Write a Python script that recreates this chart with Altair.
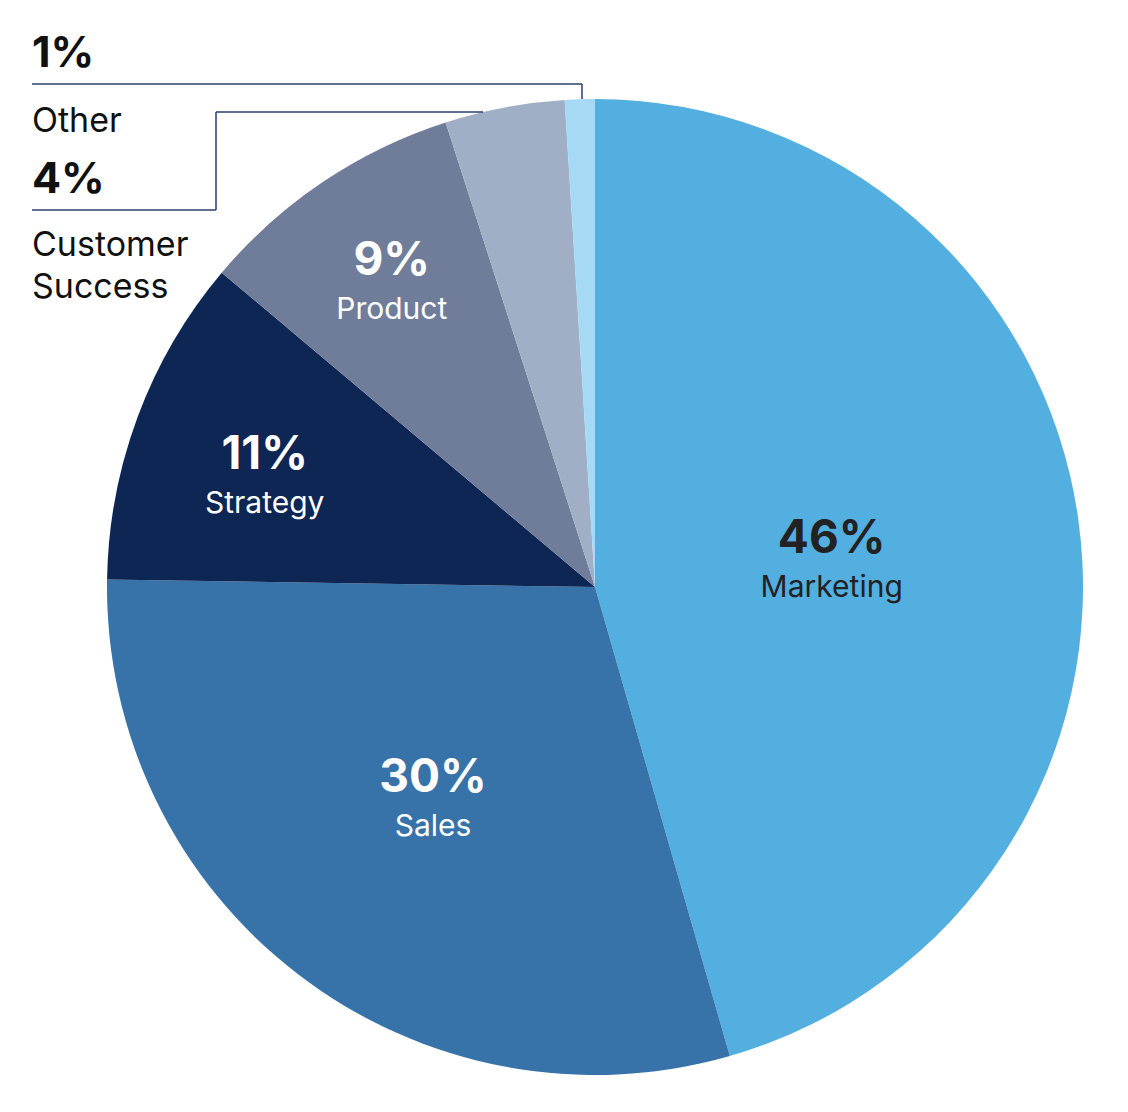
import altair as alt
import pandas as pd

categories = ["Marketing", "Sales", "Strategy", "Product", "Customer Success", "Other"]
values = [46, 30, 11, 9, 4, 1]
colors = ["#52AFE0", "#3773A9", "#0E2654", "#707D9A", "#A0AEC6", "#A5D9F4"]

total = sum(values)
starts, ends = [], []
acc = 0
for v in values:
    starts.append(acc)
    acc += v
    ends.append(acc)

df = pd.DataFrame({
    "category": categories,
    "value": values,
    "pct": [f"{v}%" for v in values],
    "start": starts,
    "end": ends,
    "mid": [(s + e) / 2 for s, e in zip(starts, ends)],
    "order": list(range(len(categories))),
})

# layout (plot coordinates; page has 8px margin)
CX, CY, R = 587, 579, 488
FONT = "Inter"
LINE = "#2A3F6C"

theta_scale = alt.Scale(domain=[0, total])

base = alt.Chart(df)

arcs = base.mark_arc(outerRadius=R).encode(
    theta=alt.Theta("start:Q", scale=theta_scale),
    theta2="end:Q",
    color=alt.Color("category:N", scale=alt.Scale(domain=categories, range=colors), legend=None),
    x=alt.value(CX),
    y=alt.value(CY),
)

# inner labels: radius and nudge per label (style)
inner = {
    "Marketing": (236, 3, 21, "#222222"),
    "Sales": (278, 7, 6, "#FFFFFF"),
    "Strategy": (343, -9, 24, "#FFFFFF"),
    "Product": (354, -6, 4, "#FFFFFF"),
}

layers = [arcs]
for cat, (rad, ndx, ndy, col) in inner.items():
    sub = base.transform_filter(alt.datum.category == cat)
    layers.append(
        sub.mark_text(radius=rad, dx=ndx, dy=ndy - 22, font=FONT, fontSize=46,
                      fontWeight="bold", color=col, align="center", baseline="alphabetic").encode(
            theta=alt.Theta("mid:Q", scale=theta_scale), text="pct:N",
            x=alt.value(CX), y=alt.value(CY))
    )
    layers.append(
        sub.mark_text(radius=rad, dx=ndx, dy=ndy + 22, font=FONT, fontSize=30,
                      fontWeight="normal", color=col, align="center", baseline="alphabetic").encode(
            theta=alt.Theta("mid:Q", scale=theta_scale), text="category:N",
            x=alt.value(CX), y=alt.value(CY))
    )

# outside labels
LX = 24
outer_pct = {"Other": 59, "Customer Success": 185}
outer_name = {"Other": 124, "Customer Success": 248}
for cat in ["Other", "Customer Success"]:
    sub = base.transform_filter(alt.datum.category == cat)
    layers.append(
        sub.mark_text(font=FONT, fontSize=43, fontWeight="bold", color="#111111",
                      align="left", baseline="alphabetic").encode(
            text="pct:N", x=alt.value(LX), y=alt.value(outer_pct[cat]))
    )
    layers.append(
        sub.mark_text(font=FONT, fontSize=34, fontWeight="normal", color="#111111",
                      align="left", baseline="alphabetic", lineBreak=" ", lineHeight=42).encode(
            text="category:N", x=alt.value(LX), y=alt.value(outer_name[cat]))
    )

# leader lines
segments = [
    (LX, 574, 76, 76),      # Other horizontal
    (574, 574, 76, 91),     # Other vertical to pie edge
    (208, 475, 104, 104),   # Customer Success top horizontal
    (208, 208, 104, 202),   # Customer Success vertical
    (LX, 208, 202, 202),    # Customer Success bottom horizontal
]
one = base.transform_filter(alt.datum.category == "Other")
for x1, x2, y1, y2 in segments:
    layers.append(
        one.mark_rule(color=LINE, strokeWidth=1.5).encode(
            x=alt.value(x1), x2=alt.value(x2), y=alt.value(y1), y2=alt.value(y2))
    )

chart = alt.layer(*layers).properties(
    width=1112, height=1096, padding=0, background="#FFFFFF",
    autosize=alt.AutoSizeParams(type="none")
).configure_view(stroke=None)

chart.save("out.html", embed_options={"renderer": "svg", "actions": False})
